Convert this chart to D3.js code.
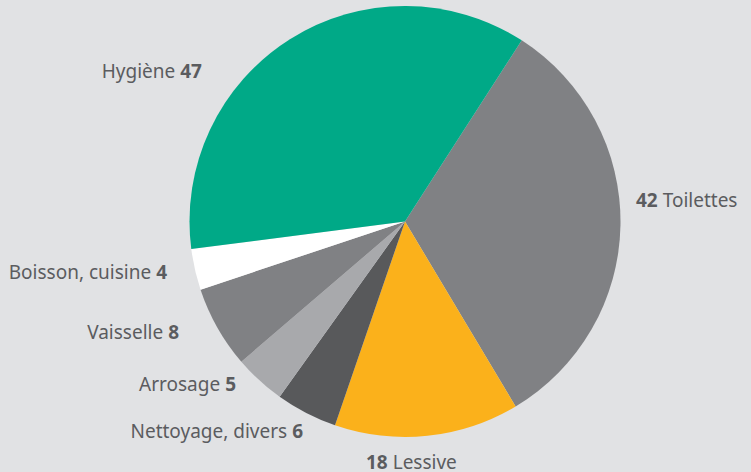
<!DOCTYPE html>
<html>
<head>
<meta charset="utf-8">
<script src="https://cdn.jsdelivr.net/npm/d3@7"></script>
<style>
  html, body { margin: 0; padding: 0; background: #e1e2e4; }
  svg { display: block; }
  text { font-family: "Noto Sans", sans-serif; font-size: 19px; fill: #5b5c5f; }
  .val { font-weight: bold; }
</style>
</head>
<body>
<svg id="chart" width="751" height="472"></svg>
<script>
// Water use by purpose (litres per person per day), clockwise from Toilettes
const categories = ["Toilettes", "Lessive", "Nettoyage, divers", "Arrosage", "Vaisselle", "Boisson, cuisine", "Hygiène"];
const values = [42, 18, 6, 5, 8, 4, 47];
const colors = ["#808184", "#fbb11b", "#58595b", "#a8a9ac", "#808184", "#ffffff", "#00a987"];

// Label placement: anchor point and which side the number sits on
const labelLayout = {
  "Toilettes":         { x: 636, y: 207, anchor: "start", numFirst: true },
  "Lessive":           { x: 366, y: 469, anchor: "start", numFirst: true },
  "Nettoyage, divers": { x: 303, y: 438, anchor: "end",   numFirst: false },
  "Arrosage":          { x: 236, y: 391, anchor: "end",   numFirst: false },
  "Vaisselle":         { x: 179, y: 339, anchor: "end",   numFirst: false },
  "Boisson, cuisine":  { x: 167, y: 279, anchor: "end",   numFirst: false },
  "Hygiène":           { x: 202, y: 78,  anchor: "end",   numFirst: false }
};

const cx = 405, cy = 221.5, radius = 215.5;
const svg = d3.select("#chart");
const g = svg.append("g").attr("transform", `translate(${cx},${cy})`);

const data = categories.map((c, i) => ({ name: c, value: values[i], color: colors[i] }));

const startDeg = 32.8;
const pie = d3.pie()
  .value(d => d.value)
  .sort(null)
  .startAngle(startDeg * Math.PI / 180)
  .endAngle((startDeg + 360) * Math.PI / 180);

const arc = d3.arc().innerRadius(0).outerRadius(radius);

g.selectAll("path.slice")
  .data(pie(data))
  .join("path")
  .attr("class", "slice")
  .attr("d", arc)
  .attr("fill", d => d.data.color);

const labels = svg.append("g");
data.forEach(d => {
  const L = labelLayout[d.name];
  const t = labels.append("text")
    .attr("x", L.x)
    .attr("y", L.y)
    .attr("text-anchor", L.anchor);
  if (L.numFirst) {
    t.append("tspan").attr("class", "val").text(d.value);
    t.append("tspan").text(" " + d.name);
  } else {
    t.append("tspan").text(d.name + " ");
    t.append("tspan").attr("class", "val").text(d.value);
  }
});
</script>
</body>
</html>
